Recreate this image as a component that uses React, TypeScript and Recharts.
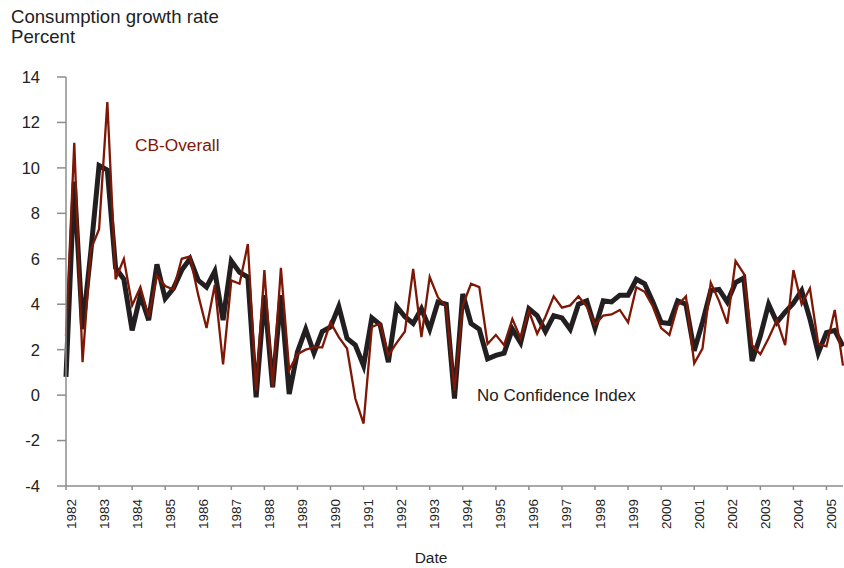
import { Line, LineChart, XAxis, YAxis } from "recharts";

// quarterly, starting 1982 Q1
const START_YEAR = 1982;
const yearTicks = [
  1982, 1983, 1984, 1985, 1986, 1987, 1988, 1989, 1990, 1991, 1992, 1993,
  1994, 1995, 1996, 1997, 1998, 1999, 2000, 2001, 2002, 2003, 2004, 2005,
];
const yTicks = [-4, -2, 0, 2, 4, 6, 8, 10, 12, 14];

const noConfidence = [
  0.8, 9.4, 2.9, 6.3, 10.1, 9.9, 5.6, 5.1, 2.85, 4.4, 3.3, 5.75, 4.25, 4.7, 5.5, 6.0,
  5.05, 4.75, 5.45, 3.3, 5.9, 5.4, 5.2, -0.1, 4.4, 0.35, 4.4, 0.05, 1.9, 2.9, 1.85, 2.8,
  3.0, 3.9, 2.5, 2.2, 1.3, 3.4, 3.1, 1.45, 3.9, 3.45, 3.15, 3.8, 2.9, 4.1, 4.0, -0.15,
  4.45, 3.15, 2.9, 1.6, 1.75, 1.85, 2.9, 2.3, 3.8, 3.5, 2.8, 3.5, 3.4, 2.9, 4.0, 4.15,
  2.95, 4.15, 4.1, 4.4, 4.4, 5.1, 4.9, 4.1, 3.2, 3.15, 4.15, 4.0, 1.95, 3.2, 4.6, 4.65,
  4.1, 4.95, 5.15, 1.5, 2.6, 4.0, 3.2, 3.65, 4.05, 4.6, 3.35, 1.85, 2.75, 2.85, 2.15,
];

const cbOverall = [
  2.6, 11.1, 1.45, 6.4, 7.3, 12.9, 5.1, 6.0, 3.95, 4.75, 3.45, 5.25, 4.8, 4.65, 6.0, 6.1,
  4.4, 2.95, 4.85, 1.35, 5.05, 4.9, 6.65, 0.2, 5.5, 0.35, 5.6, 1.1, 1.8, 2.0, 2.1, 2.1,
  3.2, 2.55, 2.05, -0.15, -1.25, 3.0, 3.15, 1.75, 2.3, 2.8, 5.55, 2.55, 5.2, 4.3, 3.9, 0.2,
  3.95, 4.9, 4.75, 2.25, 2.65, 2.2, 3.35, 2.5, 3.7, 2.7, 3.45, 4.35, 3.85, 3.95, 4.35, 3.9,
  3.1, 3.5, 3.55, 3.75, 3.2, 4.75, 4.55, 3.9, 2.95, 2.65, 3.95, 4.35, 1.4, 2.05, 4.95, 4.15,
  3.15, 5.9, 5.35, 2.2, 1.8, 2.5, 3.3, 2.2, 5.5, 4.0, 4.7, 2.25, 2.15, 3.75, 1.3,
];

const data = noConfidence.map((v, i) => ({
  date: START_YEAR + i / 4,
  noConfidence: v,
  cbOverall: cbOverall[i],
}));

const FONT = '"Liberation Sans", Arial, Helvetica, sans-serif';
const AXIS = "#8c8c8c";
const TEXT = "#222";

function YearTick({ x, y, payload }: any) {
  return (
    <text
      transform={`translate(${x},${y}) rotate(-90)`}
      textAnchor="end"
      dy={9.5}
      fontSize={13.5}
      fontFamily={FONT}
      fill={TEXT}
    >
      {payload.value}
    </text>
  );
}

export default function App() {
  return (
    <div style={{ position: "absolute", left: 0, top: 0, width: 844, height: 568, background: "#fff" }}>
      <LineChart
        width={844}
        height={568}
        data={data}
        margin={{ top: 77, right: 1, bottom: 0, left: 0 }}
      >
        <XAxis
          dataKey="date"
          type="number"
          domain={[1982, 2005.5]}
          ticks={yearTicks}
          interval={0}
          height={82}
          tickSize={4}
          tickMargin={9}
          tick={<YearTick />}
          axisLine={{ stroke: AXIS, strokeWidth: 1.5 }}
          tickLine={{ stroke: AXIS, strokeWidth: 1.5 }}
        />
        <YAxis
          type="number"
          domain={[-4, 14]}
          ticks={yTicks}
          interval={0}
          width={66}
          tickSize={9}
          tickMargin={17}
          tick={{ fontSize: 16.5, fontFamily: FONT, fill: TEXT }}
          axisLine={{ stroke: AXIS, strokeWidth: 1.5 }}
          tickLine={{ stroke: AXIS, strokeWidth: 1.5 }}
        />
        <Line
          dataKey="noConfidence"
          stroke="#231f20"
          strokeWidth={5}
          dot={false}
          isAnimationActive={false}
        />
        <Line
          dataKey="cbOverall"
          stroke="#7e1705"
          strokeWidth={2.3}
          dot={false}
          isAnimationActive={false}
        />
      </LineChart>
      <svg
        width={844}
        height={568}
        style={{ position: "absolute", left: 0, top: 0, pointerEvents: "none" }}
        fontFamily={FONT}
      >
        <text x={11} y={22.5} fontSize={18.6} fill={TEXT}>Consumption growth rate</text>
        <text x={11} y={42.5} fontSize={18.6} fill={TEXT}>Percent</text>
        <text x={135} y={151} fontSize={17.3} fill="#7e1705">CB-Overall</text>
        <text x={477} y={401} fontSize={17} fill={TEXT}>No Confidence Index</text>
        <text x={431} y={563} fontSize={15.5} fill={TEXT} textAnchor="middle">Date</text>
      </svg>
    </div>
  );
}
